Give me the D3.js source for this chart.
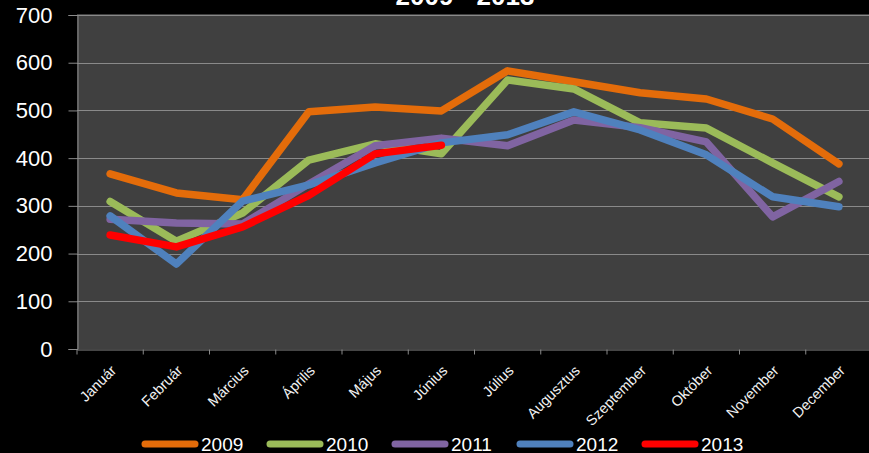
<!DOCTYPE html>
<html>
<head>
<meta charset="utf-8">
<script src="https://cdn.jsdelivr.net/npm/d3@7"></script>
<style>
  html, body { margin: 0; padding: 0; background: #000; overflow: hidden; }
  svg { display: block; }
</style>
</head>
<body>
<div id="chart"></div>
<script>
// months on the x axis
const months = ["Január", "Február", "Március", "Április", "Május", "Június",
  "Július", "Augusztus", "Szeptember", "Október", "November", "December"];

// one array per year
const y2009 = [367, 327, 313, 497, 507, 499, 583, 560, 537, 524, 482, 388];
const y2010 = [309, 226, 285, 396, 430, 409, 564, 545, 474, 463, 390, 319];
const y2011 = [272, 264, 262, 346, 426, 442, 426, 480, 464, 434, 277, 351];
const y2012 = [279, 178, 310, 344, 390, 432, 449, 497, 459, 407, 319, 298];
const y2013 = [239, 214, 256, 322, 409, 427];

const years = ["2009", "2010", "2011", "2012", "2013"];
const colors = ["#E46C0A", "#9BBB59", "#8064A2", "#4F81BD", "#FF0000"];
const yTicks = [0, 100, 200, 300, 400, 500, 600, 700];

const series = [y2009, y2010, y2011, y2012, y2013].map((values, i) => ({
  name: years[i],
  color: colors[i],
  values: values
}));

const width = 869;
const height = 453;
const plot = { left: 77, right: 872, top: 14, bottom: 349 };

const svg = d3.select("#chart")
  .append("svg")
  .attr("width", width)
  .attr("height", height);

// scales
const x = d3.scaleBand().domain(months).range([plot.left, plot.right]);
const y = d3.scaleLinear().domain([0, 700]).range([plot.bottom, plot.top + 1]);

// plot area background
svg.append("rect")
  .attr("x", plot.left)
  .attr("y", plot.top)
  .attr("width", plot.right - plot.left)
  .attr("height", plot.bottom - plot.top)
  .attr("fill", "#404040");

// gridlines
svg.append("g")
  .selectAll("line")
  .data(yTicks.filter((d) => d > 0))
  .enter()
  .append("line")
  .attr("x1", plot.left)
  .attr("x2", plot.right)
  .attr("y1", (d) => Math.round(y(d)) + 0.5)
  .attr("y2", (d) => Math.round(y(d)) + 0.5)
  .attr("stroke", "#8a8a8a")
  .attr("stroke-width", 1);

// y axis
const yAxis = svg.append("g")
  .attr("transform", `translate(${plot.left + 0.5},0)`)
  .call(d3.axisLeft(y).tickValues(yTicks).tickSize(9).tickPadding(16));
yAxis.select(".domain").attr("stroke", "#8a8a8a");
yAxis.selectAll(".tick line").attr("stroke", "#8a8a8a");
yAxis.selectAll(".tick text")
  .attr("fill", "#ffffff")
  .style("font-family", "'Liberation Sans', Arial, sans-serif")
  .style("font-size", "22px");

// x axis
const xAxis = svg.append("g")
  .attr("transform", `translate(0,${plot.bottom + 0.5})`)
  .call(d3.axisBottom(x).tickSize(5).tickSizeOuter(0));
xAxis.select(".domain").attr("stroke", "#8a8a8a");
// ticks sit on category boundaries
xAxis.selectAll(".tick line")
  .attr("stroke", "#8a8a8a")
  .attr("x1", -x.bandwidth() / 2)
  .attr("x2", -x.bandwidth() / 2);
xAxis.selectAll(".tick text")
  .attr("fill", "#f2f2f2")
  .style("font-family", "'Liberation Sans', Arial, sans-serif")
  .style("font-size", "14.5px")
  .attr("text-anchor", "end")
  .attr("dy", null)
  .attr("y", 0)
  .attr("transform", "translate(7,22) rotate(-45)");

// lines
const line = d3.line()
  .x((d, i) => x(months[i]) + x.bandwidth() / 2)
  .y((d) => y(d));

svg.append("g")
  .selectAll("path")
  .data(series)
  .enter()
  .append("path")
  .attr("d", (d) => line(d.values))
  .attr("fill", "none")
  .attr("stroke", (d) => d.color)
  .attr("stroke-width", 7.5)
  .attr("stroke-linecap", "round")
  .attr("stroke-linejoin", "round");

// title, mostly cut off at the top
svg.append("text")
  .attr("x", 465)
  .attr("y", 5)
  .attr("text-anchor", "middle")
  .attr("fill", "#ffffff")
  .style("font-family", "'Liberation Sans', Arial, sans-serif")
  .style("font-size", "26px")
  .style("font-weight", "bold")
  .text("2009 - 2013");

// legend
const legend = svg.append("g")
  .selectAll("g")
  .data(series)
  .enter()
  .append("g")
  .attr("transform", (d, i) => `translate(${142 + i * 125},444)`);

legend.append("line")
  .attr("x1", 3)
  .attr("x2", 53)
  .attr("stroke", (d) => d.color)
  .attr("stroke-width", 7)
  .attr("stroke-linecap", "round");

legend.append("text")
  .attr("x", 59)
  .attr("y", 7)
  .attr("fill", "#ffffff")
  .style("font-family", "'Liberation Sans', Arial, sans-serif")
  .style("font-size", "19px")
  .text((d) => d.name);
</script>
</body>
</html>
